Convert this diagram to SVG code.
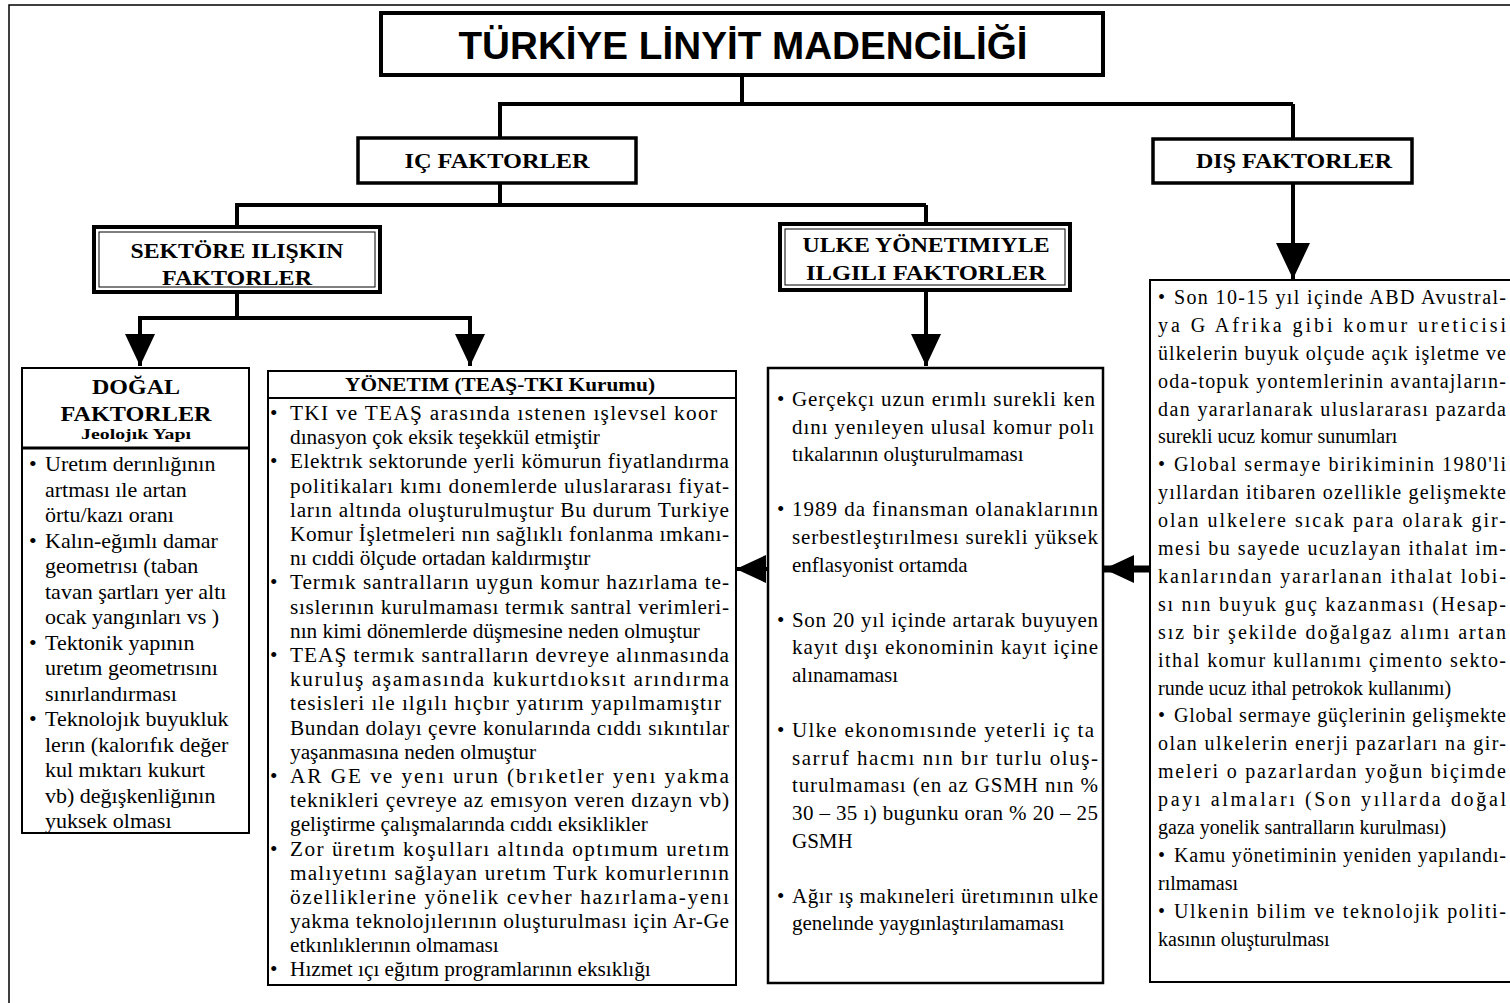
<svg xmlns="http://www.w3.org/2000/svg" width="1510" height="1003" viewBox="0 0 1510 1003">
<style>
.bx{fill:#fff;stroke:#000}
.t{font-family:"Liberation Serif","Times New Roman",serif;font-size:21.3px;fill:#000}
.tu{font-family:"Liberation Serif","Times New Roman",serif;font-size:21px;fill:#000}
.td{font-family:"Liberation Serif","Times New Roman",serif;font-size:22px;fill:#000}
.t2{font-family:"Liberation Serif","Times New Roman",serif;font-size:20px;fill:#000}
.h{font-family:"Liberation Serif","Times New Roman",serif;font-weight:bold;font-size:22px;fill:#000;text-anchor:middle}
.ttl{font-family:"Liberation Sans",Arial,sans-serif;font-weight:bold;font-size:38px;fill:#000;text-anchor:middle}
.ln{stroke:#000;stroke-width:4;fill:none}
</style>
<defs>
<marker id="ah" markerUnits="userSpaceOnUse" viewBox="0 0 32 30" refX="32" refY="15" markerWidth="32" markerHeight="30" orient="auto">
<path d="M0,0 L32,15 L0,30 Z" fill="#000"/>
</marker>
<marker id="ah2" markerUnits="userSpaceOnUse" viewBox="0 0 36 34" refX="36" refY="17" markerWidth="36" markerHeight="34" orient="auto">
<path d="M0,0 L36,17 L0,34 Z" fill="#000"/>
</marker>
<marker id="ahs" markerUnits="userSpaceOnUse" viewBox="0 0 30 28" refX="30" refY="14" markerWidth="30" markerHeight="28" orient="auto">
<path d="M0,0 L30,14 L0,28 Z" fill="#000"/>
</marker>
</defs>
<rect width="1510" height="1003" fill="#fff"/>
<path d="M9,1003 V5 H1510" fill="none" stroke="#000" stroke-width="1.5"/>

<g id="connectors">
<path class="ln" d="M742,75 V104 M498,104 H1293 M500,104 V139 M1293,104 V140"/>
<path class="ln" d="M500,183 V205 M235,205 H926 M237,205 V228 M926,205 V224"/>
<path class="ln" d="M237,292 V318 M138,318 H472"/>
<line class="ln" x1="140" y1="318" x2="140" y2="366" marker-end="url(#ah)"/>
<line class="ln" x1="470" y1="318" x2="470" y2="366" marker-end="url(#ah)"/>
<line class="ln" x1="926" y1="290" x2="926" y2="366" marker-end="url(#ah)"/>
<line class="ln" x1="1293" y1="183" x2="1293" y2="279" marker-end="url(#ah2)"/>
<line class="ln" x1="767" y1="569" x2="736" y2="569" marker-end="url(#ahs)"/>
<line class="ln" style="stroke-width:7" x1="1149" y1="569" x2="1104" y2="569" marker-end="url(#ahs)"/>
</g>

<g id="title">
<rect class="bx" x="381" y="13" width="722" height="62" stroke-width="4"/>
<text class="ttl" x="743" y="59" textLength="569" lengthAdjust="spacingAndGlyphs">TÜRKİYE LİNYİT MADENCİLİĞİ</text>
</g>

<g id="ic">
<rect class="bx" x="358" y="138" width="278" height="45" stroke-width="3.5"/>
<text class="h" x="497" y="168" textLength="185" lengthAdjust="spacingAndGlyphs">IÇ FAKTORLER</text>
</g>

<g id="dis">
<rect class="bx" x="1153" y="139" width="259" height="44" stroke-width="3.5"/>
<text class="h" x="1294" y="168" textLength="196" lengthAdjust="spacingAndGlyphs">DIŞ FAKTORLER</text>
</g>

<g id="sektor">
<rect class="bx" x="94" y="227" width="286" height="65" stroke-width="4"/>
<rect x="99" y="232" width="276" height="55" fill="none" stroke="#000" stroke-width="1"/>
<text class="h" x="237" y="258" textLength="213" lengthAdjust="spacingAndGlyphs">SEKTÖRE ILIŞKIN</text>
<text class="h" x="237" y="285" textLength="150" lengthAdjust="spacingAndGlyphs">FAKTORLER</text>
</g>

<g id="ulke">
<rect class="bx" x="780" y="224" width="290" height="66" stroke-width="4"/>
<rect x="785" y="229" width="280" height="56" fill="none" stroke="#000" stroke-width="1"/>
<text class="h" x="926" y="252" textLength="247" lengthAdjust="spacingAndGlyphs">ULKE YÖNETIMIYLE</text>
<text class="h" x="926" y="280" textLength="240" lengthAdjust="spacingAndGlyphs">ILGILI  FAKTORLER</text>
</g>

<g id="dogal">
<rect class="bx" x="22" y="368" width="227" height="465" stroke-width="2"/>
<line x1="22" y1="448" x2="249" y2="448" stroke="#000" stroke-width="3"/>
<text class="h" x="136" y="394" textLength="88" lengthAdjust="spacingAndGlyphs">DOĞAL</text>
<text class="h" x="136" y="421" textLength="151" lengthAdjust="spacingAndGlyphs">FAKTORLER</text>
<text class="h" x="136" y="439" style="font-size:15px" textLength="110" lengthAdjust="spacingAndGlyphs">Jeolojık Yapı</text>
<g class="td">
<text x="29" y="471">•</text><text x="45" y="471">Uretım derınlığının</text>
<text x="45" y="496.5">artması ıle artan</text>
<text x="45" y="522">örtu/kazı oranı</text>
<text x="29" y="547.5">•</text><text x="45" y="547.5">Kalın-eğımlı damar</text>
<text x="45" y="573">geometrısı (taban</text>
<text x="45" y="598.5">tavan şartları  yer altı</text>
<text x="45" y="624">ocak yangınları vs )</text>
<text x="29" y="649.5">•</text><text x="45" y="649.5">Tektonik yapının</text>
<text x="45" y="675">uretım geometrısını</text>
<text x="45" y="700.5">sınırlandırması</text>
<text x="29" y="726">•</text><text x="45" y="726">Teknolojık buyukluk</text>
<text x="45" y="751.5">lerın (kalorıfık değer</text>
<text x="45" y="777">kul mıktarı  kukurt</text>
<text x="45" y="802.5">vb) değışkenliğının</text>
<text x="45" y="828">yuksek olması</text>
</g>
</g>

<g id="yonetim">
<rect class="bx" x="268" y="371" width="468" height="614" stroke-width="2"/>
<line x1="268" y1="398" x2="736" y2="398" stroke="#000" stroke-width="2"/>
<text class="h" x="500" y="391" style="font-size:19px" textLength="310" lengthAdjust="spacingAndGlyphs">YÖNETIM (TEAŞ-TKI Kurumu)</text>
<g class="t">
<text x="270" y="420">•</text><text x="290" y="420" textLength="427" lengthAdjust="spacing">TKI ve TEAŞ arasında ıstenen ışlevsel koor</text>
<text x="290" y="444.2">dınasyon çok eksik teşekkül etmiştir</text>
<text x="270" y="468.4">•</text><text x="290" y="468.4" textLength="439" lengthAdjust="spacing">Elektrık sektorunde yerli kömurun fiyatlandırma</text>
<text x="290" y="492.6" textLength="439" lengthAdjust="spacing">politikaları kımı donemlerde uluslararası fiyat-</text>
<text x="290" y="516.8" textLength="439" lengthAdjust="spacing">ların altında oluşturulmuştur Bu durum Turkiye</text>
<text x="290" y="541" textLength="439" lengthAdjust="spacing">Komur İşletmeleri nın sağlıklı fonlanma ımkanı-</text>
<text x="290" y="565.2">nı cıddi ölçude ortadan kaldırmıştır</text>
<text x="270" y="589.4">•</text><text x="290" y="589.4" textLength="439" lengthAdjust="spacing">Termık santralların uygun komur hazırlama te-</text>
<text x="290" y="613.6" textLength="439" lengthAdjust="spacing">sıslerının kurulmaması termık santral verimleri-</text>
<text x="290" y="637.8">nın kimi dönemlerde düşmesine neden olmuştur</text>
<text x="270" y="662">•</text><text x="290" y="662" textLength="439" lengthAdjust="spacing">TEAŞ termık santralların devreye alınmasında</text>
<text x="290" y="686.2" textLength="439" lengthAdjust="spacing">kuruluş aşamasında kukurtdıoksıt arındırma</text>
<text x="290" y="710.4" textLength="431" lengthAdjust="spacing">tesisleri ıle ılgılı hıçbır yatırım yapılmamıştır</text>
<text x="290" y="734.6" textLength="439" lengthAdjust="spacing">Bundan dolayı çevre konularında cıddı sıkıntılar</text>
<text x="290" y="758.8">yaşanmasına neden olmuştur</text>
<text x="270" y="783">•</text><text x="290" y="783" textLength="439" lengthAdjust="spacing">AR GE ve yenı urun (brıketler yenı yakma</text>
<text x="290" y="807.2" textLength="439" lengthAdjust="spacing">teknikleri çevreye az emısyon veren dızayn vb)</text>
<text x="290" y="831.4">geliştirme çalışmalarında cıddı eksiklikler</text>
<text x="270" y="855.6">•</text><text x="290" y="855.6" textLength="439" lengthAdjust="spacing">Zor üretım koşulları altında optımum uretım</text>
<text x="290" y="879.8" textLength="439" lengthAdjust="spacing">malıyetını sağlayan uretım Turk komurlerının</text>
<text x="290" y="904" textLength="439" lengthAdjust="spacing">özelliklerine yönelik cevher hazırlama-yenı</text>
<text x="290" y="928.2" textLength="439" lengthAdjust="spacing">yakma teknolojılerının oluşturulması için Ar-Ge</text>
<text x="290" y="952.4">etkınlıklerının olmaması</text>
<text x="270" y="976">•</text><text x="290" y="976">Hızmet ıçı eğıtım programlarının eksıklığı</text>
</g>
</g>

<g id="ulke-icerik">
<rect class="bx" x="768" y="368" width="335" height="615" stroke-width="2.5"/>
<g class="tu">
<text x="777" y="406">•</text><text x="792" y="406" textLength="303" lengthAdjust="spacing">Gerçekçı uzun erımlı surekli ken</text>
<text x="792" y="433.6" textLength="302" lengthAdjust="spacing">dını yenıleyen ulusal komur polı</text>
<text x="792" y="461.2">tıkalarının oluşturulmaması</text>
<text x="777" y="516.4">•</text><text x="792" y="516.4" textLength="306" lengthAdjust="spacing">1989 da finansman olanaklarının</text>
<text x="792" y="544" textLength="306" lengthAdjust="spacing">serbestleştırılmesı surekli yüksek</text>
<text x="792" y="571.6">enflasyonist ortamda</text>
<text x="777" y="626.8">•</text><text x="792" y="626.8" textLength="306" lengthAdjust="spacing">Son 20 yıl içinde artarak buyuyen</text>
<text x="792" y="654.4" textLength="306" lengthAdjust="spacing">kayıt dışı ekonominin kayıt içine</text>
<text x="792" y="682">alınamaması</text>
<text x="777" y="737.2">•</text><text x="792" y="737.2" textLength="302" lengthAdjust="spacing">Ulke ekonomısınde yeterli iç ta</text>
<text x="792" y="764.8" textLength="306" lengthAdjust="spacing">sarruf hacmı nın bır turlu oluş-</text>
<text x="792" y="792.4" textLength="306" lengthAdjust="spacing">turulmaması (en az GSMH nın %</text>
<text x="792" y="820" textLength="306" lengthAdjust="spacing">30 – 35 ı) bugunku oran % 20 – 25</text>
<text x="792" y="847.6">GSMH</text>
<text x="777" y="902.8">•</text><text x="792" y="902.8" textLength="306" lengthAdjust="spacing">Ağır ış makıneleri üretımının ulke</text>
<text x="792" y="930.4">genelınde yaygınlaştırılamaması</text>
</g>
</g>

<g id="dis-icerik">
<rect class="bx" x="1150" y="280" width="400" height="702" stroke-width="2"/>
<g class="t2">
<text x="1158" y="304">•</text><text x="1174" y="304" textLength="332" lengthAdjust="spacing">Son 10-15 yıl içinde ABD Avustral-</text>
<text x="1158" y="332" textLength="348" lengthAdjust="spacing">ya G Afrika gibi komur ureticisi</text>
<text x="1158" y="360" textLength="348" lengthAdjust="spacing">ülkelerin buyuk olçude açık işletme ve</text>
<text x="1158" y="388" textLength="348" lengthAdjust="spacing">oda-topuk yontemlerinin avantajların-</text>
<text x="1158" y="416" textLength="348" lengthAdjust="spacing">dan yararlanarak uluslararası pazarda</text>
<text x="1158" y="443">surekli ucuz komur sunumları</text>
<text x="1158" y="471">•</text><text x="1174" y="471" textLength="332" lengthAdjust="spacing">Global sermaye birikiminin 1980'li</text>
<text x="1158" y="499" textLength="348" lengthAdjust="spacing">yıllardan itibaren ozellikle gelişmekte</text>
<text x="1158" y="527" textLength="348" lengthAdjust="spacing">olan ulkelere sıcak para olarak gir-</text>
<text x="1158" y="555" textLength="348" lengthAdjust="spacing">mesi bu sayede ucuzlayan ithalat im-</text>
<text x="1158" y="583" textLength="348" lengthAdjust="spacing">kanlarından yararlanan ithalat lobi-</text>
<text x="1158" y="611" textLength="348" lengthAdjust="spacing">sı nın buyuk guç kazanması (Hesap-</text>
<text x="1158" y="639" textLength="348" lengthAdjust="spacing">sız bir şekilde doğalgaz alımı artan</text>
<text x="1158" y="667" textLength="348" lengthAdjust="spacing">ithal komur kullanımı çimento sekto-</text>
<text x="1158" y="695">runde ucuz ithal petrokok kullanımı)</text>
<text x="1158" y="722">•</text><text x="1174" y="722" textLength="332" lengthAdjust="spacing">Global sermaye güçlerinin gelişmekte</text>
<text x="1158" y="750" textLength="348" lengthAdjust="spacing">olan ulkelerin enerji pazarları na gir-</text>
<text x="1158" y="778" textLength="348" lengthAdjust="spacing">meleri o pazarlardan yoğun biçimde</text>
<text x="1158" y="806" textLength="348" lengthAdjust="spacing">payı almaları (Son yıllarda doğal</text>
<text x="1158" y="834">gaza yonelik santralların kurulması)</text>
<text x="1158" y="862">•</text><text x="1174" y="862" textLength="332" lengthAdjust="spacing">Kamu yönetiminin yeniden yapılandı-</text>
<text x="1158" y="890">rılmaması</text>
<text x="1158" y="918">•</text><text x="1174" y="918" textLength="332" lengthAdjust="spacing">Ulkenin bilim ve teknolojik politi-</text>
<text x="1158" y="946">kasının oluşturulması</text>
</g>
</g>
</svg>
